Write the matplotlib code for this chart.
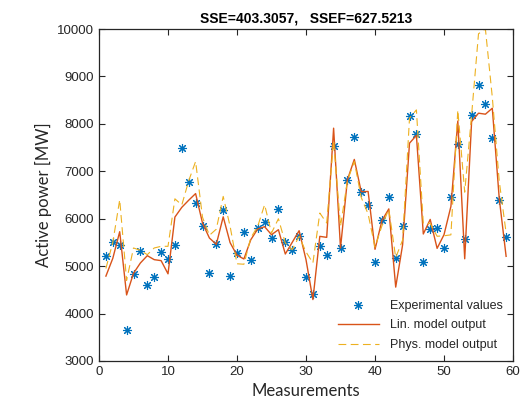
import numpy as np
import matplotlib
matplotlib.use("Agg")
import matplotlib.pyplot as plt

plt.rcParams['font.family'] = ['Liberation Sans', 'DejaVu Sans']

measurements = list(range(1, 60))

experimental = [5220, 5500, 5446, 3648, 4842, 5320, 4604, 4772, 5305, 5151,
                5453, 7488, 6779, 6323, 5853, 4856, 5459, 6189, 4800, 5277,
                5726, 5137, 5804, 5923, 5586, 6196, 5516, 5347, 5628, 4765,
                4414, 5432, 5242, 7523, 5389, 6807, 7733, 6561, 6295, 5088,
                5965, 6449, 5165, 5839, 8175, 7782, 5081, 5775, 5800, 5383,
                6456, 7579, 5579, 8189, 8814, 8428, 7705, 6400, 5621]

lin_model = [4790, 5165, 5726, 4393, 4850, 5067, 5221, 5137, 5116, 4838,
             6035, 6240, 6390, 6530, 5909, 5593, 5460, 6040, 5495, 5230,
             5151, 5558, 5783, 5832, 5663, 5768, 5256, 5501, 5747, 5137,
             4295, 5628, 5607, 7909, 5383, 6821, 7250, 6570, 6575, 5355,
             5960, 6207, 4558, 5450, 7593, 7757, 5678, 5985, 5375, 5663,
             6259, 8060, 5155, 8049, 8225, 8204, 8330, 6435, 5207]

phys_model = [4950, 5500, 6400, 4700, 5383, 5333, 5242, 5383, 5418, 5418,
              6420, 6290, 6800, 7207, 6030, 5650, 5780, 6470, 5839, 5050,
              5040, 5600, 5839, 6295, 5698, 6000, 5488, 5347, 5628, 5300,
              5067, 6120, 5909, 7650, 5839, 6800, 7207, 6450, 6100, 5400,
              5850, 6200, 5180, 5550, 8120, 8295, 5900, 5900, 5630, 5640,
              5660, 8290, 6560, 8190, 9900, 10000, 8560, 6800, 5700]

title_text = "SSE=403.3057,   SSEF=627.5213"
xticks = [0, 10, 20, 30, 40, 50, 60]
yticks = [3000, 4000, 5000, 6000, 7000, 8000, 9000, 10000]

fig = plt.figure(figsize=(5.32, 4.08), dpi=100)
ax = fig.add_axes([0.1861, 0.1152, 0.7782, 0.8137])

ax.plot(measurements, experimental, linestyle='none', marker=(8, 2, 0),
        markersize=6.5, markeredgewidth=0.8, color='#0072BD',
        label='Experimental values')
ax.plot(measurements, lin_model, '-', color='#D95319', linewidth=1.0,
        label='Lin. model output')
ax.plot(measurements, phys_model, '--', color='#EDB120', linewidth=0.8,
        dashes=(7, 4), label='Phys. model output')

ax.set_xlim(0, 60)
ax.set_ylim(3000, 10000)
ax.set_xticks(xticks)
ax.set_yticks(yticks)
ax.tick_params(direction='in', top=True, right=True, labelsize=9.5,
               length=4, width=0.8, colors='#262626')
for s in ax.spines.values():
    s.set_linewidth(0.9)
    s.set_color('#262626')

ax.set_xlabel('Measurements', fontsize=12, color='#262626',
              family=['Lato', 'DejaVu Sans'])
ax.set_ylabel('Active power [MW]', fontsize=12, color='#262626',
              family=['Lato', 'DejaVu Sans'])
ax.set_title(title_text, fontsize=10, fontweight='bold', pad=5)

leg = ax.legend(loc='lower right', frameon=False, fontsize=9,
                handlelength=3.3, handletextpad=0.9, borderaxespad=0.4,
                labelspacing=0.6, bbox_to_anchor=(1.0, 0.0))
for t in leg.get_texts():
    t.set_color('#262626')

fig.savefig('out.png', dpi=100)
